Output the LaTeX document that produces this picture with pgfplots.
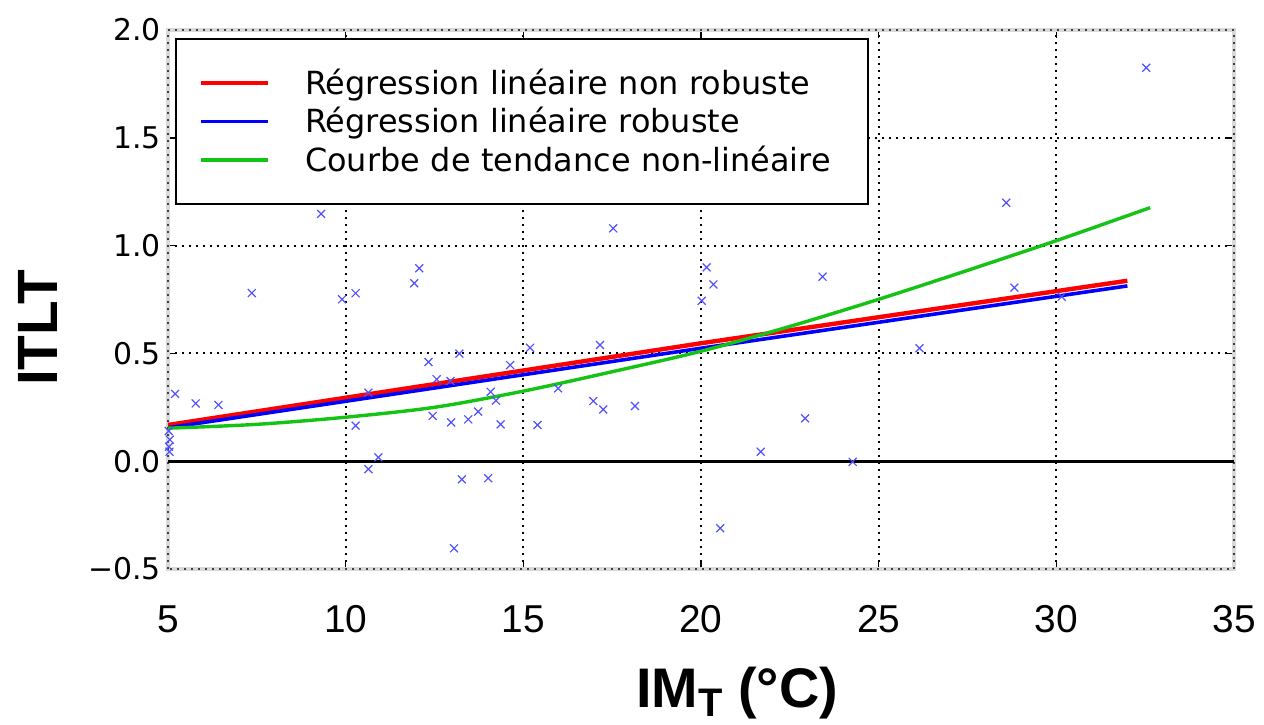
\documentclass[border=0pt]{standalone}
\usepackage{fontspec}
\setmainfont{DejaVu Sans}
\newfontfamily\arial{Liberation Sans}
\usepackage{pgfplots}
\pgfplotsset{compat=1.18}
\definecolor{mred}{RGB}{255,0,0}
\definecolor{mblue}{RGB}{0,0,255}
\definecolor{mgreen}{RGB}{20,195,20}
\definecolor{mscat}{RGB}{80,80,255}

\begin{document}
\begin{tikzpicture}
\begin{axis}[
  scale only axis, width=533bp, height=269.5bp,
  xmin=5, xmax=35, ymin=-0.5, ymax=2.0,
  xtick={5,10,...,35}, xticklabels={5,10,15,20,25,30,35},
  ytick={-0.5,0,0.5,1,1.5,2}, yticklabels={−0.5,0.0,0.5,1.0,1.5,2.0},
  xticklabel style={font=\arial\fontsize{19.5}{20}\selectfont, anchor=base, yshift=-31.5bp},
  yticklabel style={font=\fontsize{15}{18}\selectfont},
  tick align=inside, major tick length=4bp, tick style={black, line width=0.8bp},
  grid=major, major grid style={black, line width=1bp, dash pattern=on 1bp off 2.5bp},
  axis line style={draw=gray!30, line width=2bp, postaction={draw=black!75, line width=0.9bp, dash pattern=on 1bp off 2.5bp}},
  xlabel={IM\raisebox{-4.5bp}{\fontsize{20}{20}\selectfont T} (°C)},
  xlabel style={font=\arial\bfseries\fontsize{28}{30}\selectfont, at={(rel axis cs:0.534,0)}, anchor=base, yshift=-69bp},
  ylabel={ITLT},
  ylabel style={font=\arial\bfseries\fontsize{28.5}{30}\selectfont, at={(rel axis cs:-0.122,0.447)}, anchor=center},
  legend style={at={(rel axis cs:0.0066,0.985)}, anchor=north west, draw=black, line width=1bp, fill=white,
    font=\fontsize{16}{18}\selectfont, inner xsep=11.5bp, inner ysep=12.8bp, row sep=1bp,
    nodes={text width=268bp, align=left}},
  legend cell align=left,
  legend image code/.code={\draw[#1] (0bp,0bp) -- (33.5bp,0bp); \path[draw=none] (0bp,0bp) -- (50bp,0bp);},
]
\addplot[only marks, mark=x, mark size=2.8bp, mscat, mark options={line width=0.6bp}, forget plot] coordinates {
(9.31,1.147) (7.36,0.78) (9.90,0.751) (10.28,0.779) (12.07,0.895) (11.93,0.825)
(13.20,0.499) (12.33,0.460) (14.63,0.446) (15.19,0.526) (5.20,0.312) (5.78,0.268)
(6.42,0.261) (5.02,0.14) (5.05,0.10) (5.03,0.067) (5.04,0.044) (10.28,0.165)
(10.64,0.318) (10.64,-0.037) (10.92,0.018) (12.45,0.21) (12.56,0.38) (12.95,0.372)
(12.97,0.18) (13.27,-0.084) (13.05,-0.404) (13.45,0.194) (13.73,0.23) (14.01,-0.079)
(14.08,0.322) (14.23,0.281) (14.36,0.171) (15.40,0.168) (17.53,1.08) (17.16,0.539)
(20.16,0.899) (20.35,0.82) (20.02,0.744) (23.42,0.856) (26.15,0.524) (15.98,0.338)
(16.97,0.279) (17.25,0.24) (18.14,0.256) (21.68,0.044) (22.93,0.199) (24.27,-0.003)
(20.54,-0.311) (32.53,1.825) (28.59,1.199) (28.82,0.805) (30.15,0.763)
};
\addplot[black, line width=1.5bp, forget plot] coordinates {(5,0) (35,0)};
\addplot[mred, line width=2.2bp] coordinates {(5,0.168) (20,0.547) (32,0.837)};
\addlegendentry{Régression linéaire non robuste}
\addplot[mblue, line width=1.8bp] coordinates {(5,0.155) (20,0.524) (32,0.813)};
\addlegendentry{Régression linéaire robuste}
\addplot[mgreen, line width=1.7bp, smooth] coordinates {
(5,0.153) (7.5,0.171) (10,0.204) (12.5,0.25) (15,0.325) (17.5,0.415) (20,0.51)
(22.5,0.625) (25,0.751) (27.5,0.885) (30,1.023) (32.64,1.176)};
\addlegendentry{Courbe de tendance non-linéaire}
\coordinate (bl) at (rel axis cs:0,0);
\coordinate (tr) at (rel axis cs:1,1);
\end{axis}
\pgfresetboundingbox
\path ([shift={(-84bp,-78bp)}]bl) rectangle ([shift={(15bp,15bp)}]tr);
\end{tikzpicture}
\end{document}
